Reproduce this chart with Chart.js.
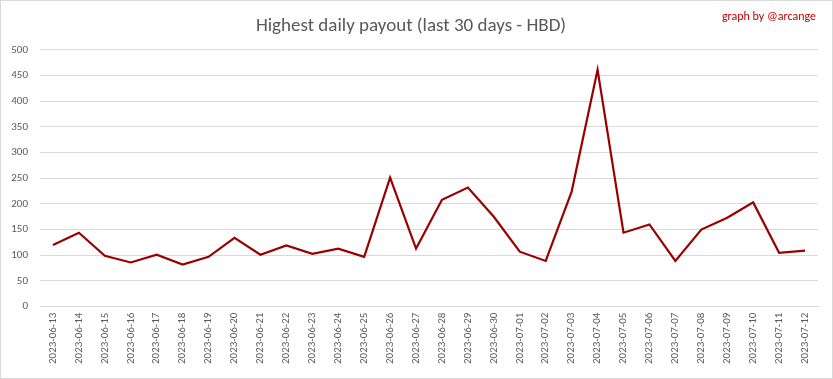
<!DOCTYPE html>
<html>
<head>
<meta charset="utf-8">
<script src="https://cdn.jsdelivr.net/npm/chart.js@4/dist/chart.umd.min.js"></script>
<style>
  html, body { margin: 0; padding: 0; background: #fff; }
  #wrap { position: relative; width: 833px; height: 379px; box-sizing: border-box; border: 1px solid #d9d9d9; background: #fff; }
  #credit { position: absolute; right: 16px; top: 8px; font-family: Carlito, Lato, "Liberation Sans", sans-serif; font-size: 12px; color: #c00000; }
  canvas { display: block; }
</style>
</head>
<body>
<div id="wrap">
  <canvas id="c" width="831" height="377"></canvas>
  <div id="credit">graph by @arcange</div>
</div>
<script>
const categories = ["2023-06-13","2023-06-14","2023-06-15","2023-06-16","2023-06-17","2023-06-18","2023-06-19","2023-06-20","2023-06-21","2023-06-22","2023-06-23","2023-06-24","2023-06-25","2023-06-26","2023-06-27","2023-06-28","2023-06-29","2023-06-30","2023-07-01","2023-07-02","2023-07-03","2023-07-04","2023-07-05","2023-07-06","2023-07-07","2023-07-08","2023-07-09","2023-07-10","2023-07-11","2023-07-12"];
const payout = [120,144,99,86,101,82,97,134,101,119,103,113,97,251,113,208,232,175,107,89,224,461,144,160,89,150,173,203,105,109];
const yTicks = [0,50,100,150,200,250,300,350,400,450,500];
const titleText = "Highest daily payout (last 30 days - HBD)";

const FONT = "Carlito, Lato, 'Liberation Sans', sans-serif";
new Chart(document.getElementById('c'), {
  type: 'line',
  data: {
    labels: categories,
    datasets: [{
      data: payout,
      borderColor: '#990000',
      backgroundColor: '#990000',
      borderWidth: 2.2,
      pointRadius: 0,
      tension: 0,
      fill: false
    }]
  },
  options: {
    responsive: false,
    animation: false,
    layout: { padding: { left: 3, right: 14, top: 4, bottom: 8 } },
    plugins: {
      legend: { display: false },
      tooltip: { enabled: false },
      title: {
        display: true,
        text: titleText,
        color: '#595959',
        font: { family: FONT, size: 19, weight: 'normal' },
        padding: { top: 10, bottom: 12 }
      }
    },
    scales: {
      x: {
        offset: true,
        grid: { display: false, drawTicks: false },
        border: { display: true, color: '#d9d9d9' },
        afterFit: (s) => { s.paddingLeft = 0; s.paddingRight = 0; },
        ticks: {
          color: '#595959',
          font: { family: FONT, size: 11 },
          minRotation: 90, maxRotation: 90,
          autoSkip: false,
          padding: 6
        }
      },
      y: {
        min: 0, max: 500,
        afterBuildTicks: (axis) => { axis.ticks = yTicks.map(v => ({ value: v })); },
        afterFit: (s) => { s.width = 36; },
        grid: { color: '#d9d9d9', drawTicks: false },
        border: { display: false },
        ticks: {
          color: '#595959',
          font: { family: FONT, size: 11 },
          padding: 12
        }
      }
    }
  }
});
</script>
</body>
</html>
